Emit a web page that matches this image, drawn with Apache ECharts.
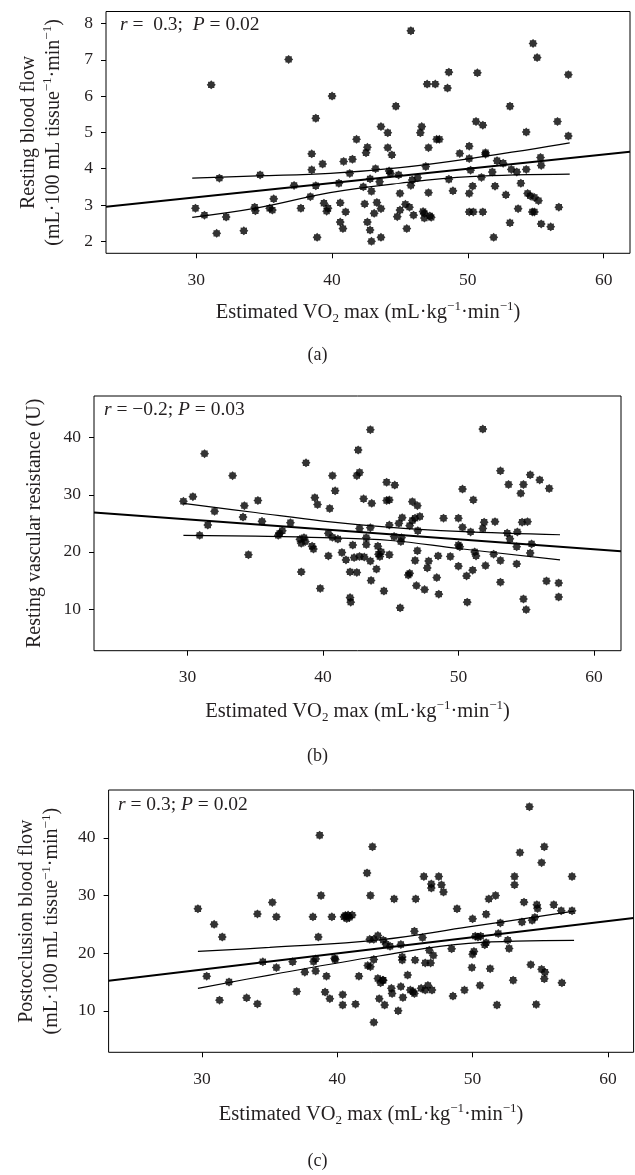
<!DOCTYPE html>
<html>
<head>
<meta charset="utf-8">
<script src="https://cdn.jsdelivr.net/npm/echarts@6/dist/echarts.min.js"></script>
<style>
html,body{margin:0;padding:0;background:#fff;}
#chart{width:635px;height:1175px;}
</style>
</head>
<body>
<div id="chart"></div>
<script>
// ---------- DATA ----------
const xTicks = [30, 40, 50, 60];
const yTicksA = [2, 3, 4, 5, 6, 7, 8];
const yTicksB = [10, 20, 30, 40];
const yTicksC = [10, 20, 30, 40];

// Panel (a): resting blood flow
const vo2A = [29.94,30.6,31.1,31.5,31.7,32.2,33.5,34.3,34.35,34.7,
35.4,35.6,35.7,36.8,37.2,37.7,38.4,38.5,38.5,38.8,
38.8,38.9,39.3,39.4,39.6,39.7,40.0,40.5,40.6,40.6,
40.8,40.85,41.0,41.3,41.5,41.8,42.3,42.4,42.5,42.6,
42.6,42.8,42.8,42.9,42.9,43.1,43.2,43.3,43.5,43.6,
43.6,43.6,44.1,44.1,44.2,44.3,44.4,44.7,44.8,44.9,
45.0,45.0,45.4,45.5,45.7,45.8,45.8,45.9,46.0,46.3,
46.5,46.6,46.7,46.8,46.8,46.9,47.0,47.1,47.1,47.2,
47.3,47.6,47.7,47.9,48.5,48.6,48.6,48.9,49.4,50.1,
50.1,50.2,50.1,50.1,50.4,50.35,50.6,50.7,51.0,51.1,
51.1,51.3,51.3,51.8,51.9,52.0,52.15,52.6,52.8,53.1,
53.1,53.2,53.6,53.7,53.9,54.3,54.3,54.4,54.6,54.75,
54.8,54.9,54.9,55.1,55.2,55.35,55.4,55.4,56.1,56.6,
56.7,57.4,57.4];
const flowA = [2.91,2.72,6.31,2.22,3.74,2.67,2.29,2.94,2.84,3.83,
2.91,2.86,3.17,7.01,3.54,2.91,3.23,4.41,3.97,5.39,
3.53,2.11,4.13,3.05,2.83,2.91,6.0,3.6,3.06,2.53,
2.35,4.2,2.81,3.87,4.26,4.81,3.5,3.03,4.44,4.59,
2.53,3.72,2.31,3.38,2.0,2.77,4.0,3.07,3.64,5.16,
2.9,2.11,4.99,4.58,3.94,3.87,4.38,5.72,2.68,3.83,
3.32,2.86,3.02,2.35,2.94,7.8,3.54,3.69,2.72,3.75,
4.99,5.16,2.82,2.64,2.77,4.06,6.33,4.58,3.34,2.7,
2.66,6.33,4.81,4.81,6.22,3.71,6.66,3.39,4.42,4.62,
4.28,3.96,3.32,2.81,2.81,3.52,5.3,6.64,3.76,5.2,
2.81,4.44,4.4,3.91,2.11,3.52,4.22,4.15,3.28,5.72,
2.51,3.98,3.91,2.9,3.6,5.01,3.98,3.32,3.25,2.81,
7.45,2.81,3.21,7.06,3.12,4.31,4.09,2.48,2.4,5.3,
2.94,4.9,6.59];
const fitAx = [23.35, 61.94];
const fitAy = [2.95, 4.47];
const bandAx = [29.7, 34.5, 39.85, 45, 50.15, 57.5];
const bandAup = [3.74, 3.80, 3.87, 4.03, 4.28, 4.71];
const bandAlo = [2.66, 2.92, 3.34, 3.6, 3.78, 3.85];

// Panel (b): resting vascular resistance
const vo2B = [29.7,30.4,30.9,31.26,31.5,32.0,33.33,34.1,34.2,34.5,
35.2,35.5,36.7,36.8,37.0,37.6,38.3,38.4,38.4,38.6,
38.75,38.7,39.2,39.3,39.4,39.6,39.8,40.4,40.4,40.5,
40.7,40.7,40.9,41.1,41.4,41.7,42.0,42.0,42.05,42.2,
42.3,42.5,42.5,42.6,42.7,42.7,42.7,43.0,43.05,43.2,
43.2,43.5,43.5,43.5,43.55,43.6,43.95,44.05,44.1,44.2,
44.3,44.5,44.7,44.7,44.9,44.9,44.9,45.3,45.25,45.6,
45.7,45.75,45.8,45.85,46.3,46.4,46.4,46.6,46.6,46.8,
46.8,46.9,46.97,46.97,47.0,47.15,47.5,47.7,47.8,48.4,
48.5,48.55,48.9,49.4,50.0,50.0,50.1,50.0,50.3,50.3,
50.6,50.65,50.9,51.05,51.1,51.2,51.3,51.8,51.8,51.9,
52.0,52.6,52.7,53.1,53.1,53.1,53.7,53.6,53.8,54.3,
54.3,54.35,54.6,54.7,54.8,54.8,55.0,55.1,55.3,55.3,
55.4,56.0,56.5,56.7,57.4,57.4];
const resB = [28.86,29.67,22.9,37.2,24.7,27.1,33.35,26.1,28.1,19.5,
29.0,25.35,22.9,23.25,23.7,25.1,22.2,21.5,16.5,22.5,
35.6,21.8,21.0,20.5,29.5,28.3,13.6,23.25,19.3,27.6,
33.35,22.55,30.7,22.25,19.9,18.6,16.5,12.0,11.2,21.2,
19.0,33.35,16.4,37.85,33.9,24.1,19.2,29.3,19.1,22.5,
21.3,41.4,24.25,18.4,15.0,28.5,17.0,21.0,19.6,19.2,
20.0,13.15,32.2,29.0,19.5,24.7,29.1,31.7,22.7,25.0,
10.2,21.8,22.5,26.0,15.95,16.25,24.6,28.8,25.5,25.9,
18.5,14.1,28.1,20.2,23.7,26.2,13.4,17.2,18.4,15.5,
19.3,12.6,25.9,19.2,25.9,21.2,20.9,17.5,31.0,24.3,
15.8,11.2,23.5,16.8,29.1,20.0,19.3,41.5,24.1,25.2,
17.6,19.6,25.3,34.2,18.5,14.7,31.8,23.3,22.3,17.9,
20.9,23.5,30.25,25.2,11.75,31.8,9.9,25.3,19.8,33.5,
21.4,32.6,14.9,31.1,14.55,12.1];
const fitBx = [23.1, 62];
const fitBy = [26.9, 20.1];
const bandBx = [29.7, 35, 40, 45, 50, 57.5];
const bandBup = [28.5, 26.9, 25.4, 24.3, 23.6, 23.0];
const bandBlo = [22.9, 22.75, 22.5, 22.0, 20.6, 18.6];

// Panel (c): postocclusion blood flow
const vo2C = [29.7,30.35,30.9,31.3,31.5,32.0,33.3,34.1,34.1,34.5,
35.2,35.5,35.5,36.7,37.0,37.6,38.2,38.25,38.4,38.4,
38.6,38.7,38.8,39.1,39.2,39.45,39.6,39.8,39.85,40.4,
40.4,40.5,40.6,40.7,40.8,40.9,41.1,41.35,41.6,42.2,
42.25,42.4,42.45,42.45,42.6,42.7,42.7,42.7,43.0,43.0,
43.1,43.2,43.35,43.4,43.4,43.5,43.6,43.9,44.0,44.05,
44.2,44.5,44.7,44.7,44.8,44.8,44.85,45.2,45.4,45.6,
45.7,45.7,45.75,45.8,46.2,46.3,46.4,46.5,46.5,46.7,
46.8,46.9,46.95,46.95,47.0,47.1,47.5,47.7,47.85,48.45,
48.55,48.85,49.4,50.0,50.0,49.95,50.1,50.2,50.4,50.55,
50.6,50.9,51.0,51.0,51.2,51.3,51.7,51.8,51.9,52.05,
52.6,52.7,53.0,53.1,53.1,53.5,53.65,53.8,54.2,54.3,
54.4,54.6,54.7,54.75,54.8,55.1,55.1,55.3,55.35,55.3,
56.0,56.55,56.6,57.35,57.35];
const postC = [27.7,16.0,25.0,11.85,22.8,15.0,12.25,11.2,26.8,18.5,
28.8,26.3,17.5,18.5,13.35,16.7,26.3,18.55,19.0,16.9,
22.8,40.45,30.0,13.25,16.0,12.1,26.3,19.1,18.9,12.8,
11.0,26.3,26.55,26.0,26.6,26.2,26.6,11.15,16.0,33.9,
17.85,22.4,30.0,17.65,38.45,8.0,18.9,22.4,23.05,15.6,
12.1,14.85,15.3,15.3,22.25,11.0,21.55,21.2,13.9,13.0,
29.4,10.0,14.2,21.5,19.35,18.8,12.3,16.2,13.6,13.3,
23.8,13.0,18.8,29.4,13.9,22.7,33.3,13.6,18.3,14.4,
20.5,18.3,32.0,31.3,13.6,19.6,33.3,31.85,30.6,20.75,
12.55,27.7,13.6,25.95,19.8,17.5,20.3,22.95,22.8,14.4,
22.95,21.45,26.75,21.8,29.4,17.3,30.0,11.0,23.4,25.25,
22.25,20.8,15.3,33.3,31.85,37.45,25.4,28.85,45.4,18.0,
25.7,26.2,11.1,28.4,27.75,35.7,17.2,38.45,16.7,15.55,
28.4,27.35,14.85,33.3,27.35];
const fitCx = [23.1, 61.9];
const fitCy = [15.2, 26.1];
const bandCx = [29.7, 35, 43.1, 49.7, 57.5];
const bandCup = [20.3, 21.0, 22.3, 24.55, 27.3];
const bandClo = [13.9, 16.2, 19.5, 21.7, 22.2];

// ---------- STYLE / BUILD ----------
const FONT = 'Liberation Serif';
const INK = '#231f20';

function starPath() {
  let d = '';
  for (let i = 0; i < 16; i++) {
    const a = -Math.PI / 2 + i * Math.PI / 8;
    const r = (i % 2 === 0) ? 50 : 38;
    const x = (50 + r * Math.cos(a)).toFixed(2);
    const y = (50 + r * Math.sin(a)).toFixed(2);
    d += (i === 0 ? 'M' : 'L') + x + ' ' + y + ' ';
  }
  return 'path://' + d + 'Z';
}
const STAR = starPath();

const zip = (xs, ys) => xs.map((x, i) => [x, ys[i]]);

const rich = {
  sup: { fontSize: 13, fontFamily: FONT, color: INK, verticalAlign: 'top', lineHeight: 14 },
  sub: { fontSize: 13, fontFamily: FONT, color: INK, verticalAlign: 'bottom', lineHeight: 14 }
};
const nameStyle = { fontSize: 20, fontFamily: FONT, color: INK, lineHeight: 25, rich: rich };
const xNameStyle = { fontSize: 20.5, fontFamily: FONT, color: INK, lineHeight: 25, rich: rich };
const xName = 'Estimated VO{sub|2} max (mL·kg{sup|−1}·min{sup|−1})';

const grids = [
  { left: 106, top: 11.5, width: 524, height: 241.8 },
  { left: 94, top: 396, width: 527, height: 254.7 },
  { left: 108.6, top: 790, width: 525, height: 262.3 }
];
const xRanges = [[23.35, 61.94], [23.1, 62.0], [23.1, 61.9]];
const yRanges = [[1.67, 8.33], [2.7, 47.3], [2.8, 48.3]];
const yTicks = [yTicksA, yTicksB, yTicksC];
const yNames = [
  'Resting blood flow\n(mL·100 mL tissue{sup|−1}·min{sup|−1})',
  'Resting vascular resistance (U)',
  'Postocclusion blood flow\n(mL·100 mL tissue{sup|−1}·min{sup|−1})'
];
const yGaps = [40, 47, 44];
const xGaps = [47, 48, 50];

const option = {
  backgroundColor: '#fff',
  animation: false,
  grid: grids.map(g => Object.assign({ show: true, borderColor: '#000', borderWidth: 1, backgroundColor: 'transparent' }, g)),
  xAxis: grids.map((g, i) => ({
    type: 'value', gridIndex: i, min: xRanges[i][0], max: xRanges[i][1],
    name: xName, nameLocation: 'middle', nameGap: xGaps[i], nameTextStyle: xNameStyle,
    axisLine: { show: false },
    axisTick: { show: true, length: 5, customValues: xTicks, lineStyle: { color: '#000' } },
    axisLabel: { customValues: xTicks, margin: 18, fontSize: 17.5, fontFamily: FONT, color: INK },
    splitLine: { show: false }
  })),
  yAxis: grids.map((g, i) => ({
    type: 'value', gridIndex: i, min: yRanges[i][0], max: yRanges[i][1],
    name: yNames[i], nameLocation: 'middle', nameGap: yGaps[i], nameTextStyle: nameStyle,
    axisLine: { show: false },
    axisTick: { show: true, length: 5, customValues: yTicks[i], lineStyle: { color: '#000' } },
    axisLabel: { customValues: yTicks[i], margin: 13, fontSize: 17.5, fontFamily: FONT, color: INK },
    splitLine: { show: false }
  })),
  series: [],
  graphic: []
};

const panels = [
  { x: vo2A, y: flowA, fx: fitAx, fy: fitAy, bx: bandAx, bu: bandAup, bl: bandAlo },
  { x: vo2B, y: resB, fx: fitBx, fy: fitBy, bx: bandBx, bu: bandBup, bl: bandBlo },
  { x: vo2C, y: postC, fx: fitCx, fy: fitCy, bx: bandCx, bu: bandCup, bl: bandClo }
];
panels.forEach((p, i) => {
  option.series.push({
    type: 'scatter', xAxisIndex: i, yAxisIndex: i, data: zip(p.x, p.y),
    symbol: STAR, symbolSize: 9, itemStyle: { color: '#000' }, z: 3
  });
  option.series.push({
    type: 'line', xAxisIndex: i, yAxisIndex: i, data: zip(p.fx, p.fy),
    showSymbol: false, lineStyle: { color: '#000', width: 2 }, z: 2
  });
  option.series.push({
    type: 'line', xAxisIndex: i, yAxisIndex: i, data: zip(p.bx, p.bu), smooth: 0.4,
    showSymbol: false, lineStyle: { color: '#000', width: 1.2 }, z: 2
  });
  option.series.push({
    type: 'line', xAxisIndex: i, yAxisIndex: i, data: zip(p.bx, p.bl), smooth: 0.4,
    showSymbol: false, lineStyle: { color: '#000', width: 1.2 }, z: 2
  });
});

const annoStyle = { fontSize: 19.5, fontFamily: FONT, fill: INK, lineHeight: 22,
  rich: { i: { fontStyle: 'italic', fontSize: 19.5, fontFamily: FONT, fill: INK } } };
const annotations = [
  { text: '{i|r} =  0.3;  {i|P} = 0.02', left: 120, top: 14 },
  { text: '{i|r} = −0.2; {i|P} = 0.03', left: 104, top: 399 },
  { text: '{i|r} = 0.3; {i|P} = 0.02', left: 118, top: 794 }
];
annotations.forEach(a => option.graphic.push({
  type: 'text', left: a.left, top: a.top, z: 10,
  style: Object.assign({ text: a.text }, annoStyle)
}));
const captions = [['(a)', 346], ['(b)', 747], ['(c)', 1152]];
captions.forEach(c => option.graphic.push({
  type: 'text', left: 'center', top: c[1],
  style: { text: c[0], fontSize: 18, fontFamily: FONT, fill: INK }
}));

const chart = echarts.init(document.getElementById('chart'), null, { renderer: 'canvas' });
chart.setOption(option);
</script>
</body>
</html>
